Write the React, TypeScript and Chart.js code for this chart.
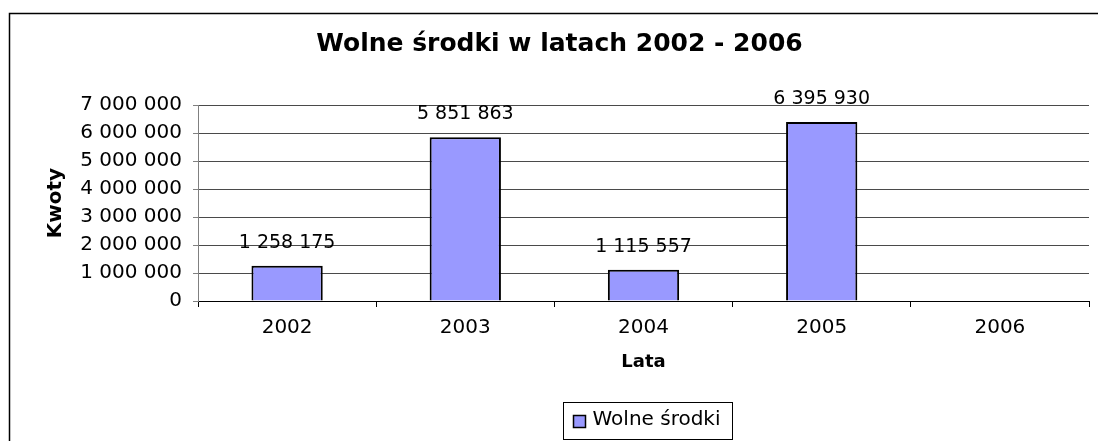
import React, { useEffect, useRef } from "react";
import { Chart, registerables } from "chart.js";

Chart.register(...registerables);

const categories = ["2002", "2003", "2004", "2005", "2006"];
const seriesLabel = "Wolne środki";
const values: (number | null)[] = [1258175, 5851863, 1115557, 6395930, null];
const yTicksMax = 7000000;
const yStep = 1000000;
const titleText = "Wolne środki w latach 2002 - 2006";
const xTitle = "Lata";
const yTitle = "Kwoty";

const FONT = "'DejaVu Sans', 'Liberation Sans', Arial, sans-serif";

function fmt(v: number): string {
  return Math.round(v)
    .toString()
    .replace(/\B(?=(\d{3})+(?!\d))/g, " ");
}

const framePlugin = {
  id: "frame",
  beforeDraw(chart: any) {
    const ctx = chart.ctx;
    ctx.save();
    ctx.fillStyle = "#ffffff";
    ctx.fillRect(0, 0, chart.width, chart.height);
    ctx.strokeStyle = "#000000";
    ctx.lineWidth = 1.5;
    ctx.strokeRect(9.5, 13.5, chart.width + 50, chart.height + 50);
    ctx.restore();
  },
};

const labelsPlugin = {
  id: "barLabels",
  afterDatasetsDraw(chart: any) {
    const ctx = chart.ctx;
    const meta = chart.getDatasetMeta(0);
    ctx.save();
    ctx.font = `19px ${FONT}`;
    ctx.fillStyle = "#000000";
    ctx.textAlign = "center";
    ctx.textBaseline = "middle";
    meta.data.forEach((bar: any, i: number) => {
      const v = chart.data.datasets[0].data[i];
      if (v == null) return;
      ctx.fillText(fmt(v), bar.x, bar.y - 23);
    });
    ctx.restore();
  },
};

const legendPlugin = {
  id: "boxLegend",
  afterDraw(chart: any) {
    const ctx = chart.ctx;
    const area = chart.chartArea;
    const ds = chart.data.datasets[0];
    ctx.save();
    ctx.font = `20px ${FONT}`;
    const tw = ctx.measureText(ds.label).width;
    const sw = 12;
    const boxW = Math.round(10 + sw + 7 + tw + 12);
    const boxH = 37;
    const cx = (area.left + area.right) / 2 + 4;
    const left = Math.round(cx - boxW / 2) + 0.5;
    const top = 402.5;
    ctx.strokeStyle = "#000000";
    ctx.lineWidth = 1;
    ctx.strokeRect(left, top, boxW, boxH);
    const sy = top + 13;
    ctx.fillStyle = ds.backgroundColor;
    ctx.fillRect(left + 10, sy, sw, sw);
    ctx.strokeStyle = "#000000";
    ctx.lineWidth = 1.5;
    ctx.strokeRect(left + 10, sy, sw, sw);
    ctx.fillStyle = "#000000";
    ctx.textAlign = "left";
    ctx.textBaseline = "middle";
    ctx.fillText(ds.label, left + 10 + sw + 7, top + 17);
    ctx.restore();
  },
};

export default function App() {
  const ref = useRef<HTMLCanvasElement | null>(null);

  useEffect(() => {
    if (!ref.current) return;
    const chart = new Chart(ref.current, {
      type: "bar",
      data: {
        labels: categories,
        datasets: [
          {
            label: seriesLabel,
            data: values,
            backgroundColor: "#9999FF",
            borderColor: "#000000",
            borderWidth: 2,
            barPercentage: 0.8,
            categoryPercentage: 0.5,
          },
        ],
      },
      options: {
        responsive: false,
        animation: false,
        devicePixelRatio: 1,
        layout: { padding: { top: 0, left: 30, right: 9, bottom: 68 } },
        plugins: {
          legend: { display: false },
          tooltip: { enabled: false },
          title: {
            display: true,
            text: titleText,
            color: "#000000",
            font: { family: FONT, size: 25, weight: "bold" },
            padding: { top: 29, bottom: 46 },
          },
        },
        scales: {
          x: {
            afterFit(scale: any) {
              scale.height = 72;
            },
            grid: {
              display: true,
              drawOnChartArea: false,
              drawTicks: true,
              tickLength: 6,
              color: "#000000",
              offset: true,
            },
            border: { display: true, color: "#000000", width: 1 },
            ticks: {
              color: "#000000",
              font: { family: FONT, size: 20 },
              padding: 9,
              maxRotation: 0,
            },
            title: {
              display: true,
              text: xTitle,
              color: "#000000",
              font: { family: FONT, size: 18, weight: "bold" },
              padding: { top: 0, bottom: 0 },
            },
          },
          y: {
            min: 0,
            max: yTicksMax,
            afterFit(scale: any) {
              scale.width = 168;
            },
            grid: {
              color: "#4a4a4a",
              lineWidth: 1,
              drawTicks: true,
              tickLength: 5,
              tickColor: "#808080",
            },
            border: { display: true, color: "#808080", width: 1 },
            ticks: {
              stepSize: yStep,
              color: "#000000",
              font: { family: FONT, size: 20 },
              padding: 11,
              callback: (v: any) => fmt(Number(v)),
            },
            title: {
              display: true,
              text: yTitle,
              color: "#000000",
              font: { family: FONT, size: 20, weight: "bold" },
              padding: { top: 14, bottom: 0 },
            },
          },
        },
      },
      plugins: [framePlugin, labelsPlugin, legendPlugin],
    });
    return () => chart.destroy();
  }, []);

  return (
    <div style={{ position: "fixed", left: 0, top: 0, width: 1098, height: 441 }}>
      <canvas ref={ref} width={1098} height={441} style={{ display: "block" }} />
    </div>
  );
}
